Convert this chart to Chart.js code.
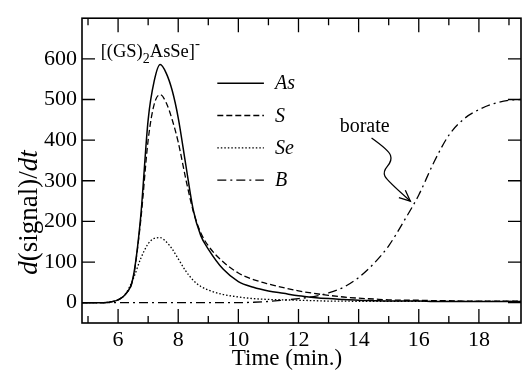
<!DOCTYPE html>
<html><head><meta charset="utf-8">
<script src="https://cdn.jsdelivr.net/npm/chart.js@4/dist/chart.umd.min.js"></script>
<style>html,body{margin:0;padding:0;background:#fff}#wrap{width:523px;height:371px;position:relative}</style>
</head><body><div id="wrap"><canvas id="c"></canvas></div>
<script>
// ---- data ----
const time = [4.8,5.0,5.25,5.5,5.75,6.0,6.25,6.5,6.75,7.0,
              7.2,7.4,7.6,7.8,8.0,8.25,8.5,8.75,9.0,9.5,
              10,10.5,11,11.5,12,12.5,13,13.5,14,14.5,
              15,15.5,16,16.5,17,17.5,18,18.5,19,19.4];
const asVals = [0,0,0,0,2,7,21,62,210,450,
                545,586,565,522,455,340,228,165,132,82,
                52,38,29,23,17,13,10,8,6,5,
                4,4,4,3,3,3,3,3,3,3];
const sVals  = [0,0,0,0,2,7,21,60,200,400,
                488,512,492,450,395,305,225,172,140,100,
                73,57,46,37,29,23,18,14,11,9,
                7,6,6,5,5,4,4,4,4,4];
const seVals = [0,0,0,0,2,7,22,58,108,145,
                158,160,150,132,108,78,55,40,31,20,
                14,10,8,7,6,5,4,4,3,3,
                3,3,3,3,3,3,3,3,3,3];
const bVals  = [0,0,0,0,0,0,0,0,0,0,
                0,0,0,0,0,0,0,0,0,0,
                0,1,3,6,10,15,24,38,62,96,
                140,200,265,345,412,452,475,490,498,500];
const seriesNames = ['As','S','Se','B'];
const xMajorTicks = [6,8,10,12,14,16,18];
const xMinorTicks = [5,7,9,11,13,15,17,19];
const yTicks = [0,100,200,300,400,500,600];
const xRange = [4.8, 19.4];
const yRange = [-50, 700];

const SERIF = "'Liberation Serif','DejaVu Serif',serif";
const styles = [
  {dash: [], width: 1.5},
  {dash: [6,3], width: 1.3},
  {dash: [1.5,2], width: 1.3},
  {dash: [9,4,2,4], width: 1.3}
];
const seriesData = [asVals, sVals, seVals, bVals];
const datasets = seriesData.map((vals, i) => ({
  label: seriesNames[i],
  data: time.map((t, k) => ({x: t, y: vals[k]})),
  borderColor: '#000',
  borderWidth: styles[i].width,
  borderDash: styles[i].dash,
  pointRadius: 0,
  fill: false,
  cubicInterpolationMode: 'monotone'
}));

function drawText(ctx, parts, x, y) {
  let cx = x;
  for (const p of parts) {
    ctx.font = (p.italic ? 'italic ' : '') + p.size + 'px ' + SERIF;
    ctx.fillText(p.t, cx, y + (p.dy || 0));
    cx += ctx.measureText(p.t).width;
  }
  return cx;
}
function measureParts(ctx, parts) {
  let w = 0;
  for (const p of parts) {
    ctx.font = (p.italic ? 'italic ' : '') + p.size + 'px ' + SERIF;
    w += ctx.measureText(p.t).width;
  }
  return w;
}

const decor = {
  id: 'decor',
  afterDraw(chart) {
    const ctx = chart.ctx, a = chart.chartArea;
    const xs = chart.scales.x, ys = chart.scales.y;
    ctx.save();
    ctx.strokeStyle = '#000';
    ctx.fillStyle = '#000';
    ctx.setLineDash([]);
    // frame
    ctx.lineWidth = 1.6;
    ctx.strokeRect(a.left, a.top, a.right - a.left, a.bottom - a.top);
    // ticks (inward)
    ctx.lineWidth = 1.3;
    ctx.beginPath();
    for (const v of xMajorTicks) {
      const px = xs.getPixelForValue(v);
      ctx.moveTo(px, a.bottom); ctx.lineTo(px, a.bottom - 14);
      ctx.moveTo(px, a.top); ctx.lineTo(px, a.top + 14);
    }
    for (const v of xMinorTicks) {
      const px = xs.getPixelForValue(v);
      ctx.moveTo(px, a.bottom); ctx.lineTo(px, a.bottom - 7);
      ctx.moveTo(px, a.top); ctx.lineTo(px, a.top + 7);
    }
    for (const v of yTicks) {
      const py = ys.getPixelForValue(v);
      ctx.moveTo(a.left, py); ctx.lineTo(a.left + 13, py);
      ctx.moveTo(a.right, py); ctx.lineTo(a.right - 13, py);
    }
    ctx.stroke();

    // legend
    const legTop = a.top + 65, legStep = 32.3;
    const lx0 = xs.getPixelForValue(9.3), lx1 = xs.getPixelForValue(10.85);
    seriesNames.forEach((name, i) => {
      const y = legTop + i * legStep;
      ctx.beginPath();
      ctx.setLineDash(styles[i].dash);
      ctx.lineWidth = styles[i].width;
      ctx.moveTo(lx0, y); ctx.lineTo(lx1, y);
      ctx.stroke();
      ctx.setLineDash([]);
      ctx.textBaseline = 'middle';
      ctx.textAlign = 'left';
      ctx.font = 'italic 20px ' + SERIF;
      ctx.fillText(name, lx1 + 11, y + 1);
    });

    // compound label
    ctx.textBaseline = 'alphabetic';
    ctx.textAlign = 'left';
    drawText(ctx, [
      {t: '[(GS)', size: 18.5},
      {t: '2', size: 14, dy: 6},
      {t: 'AsSe]', size: 18.5},
      {t: '-', size: 15, dy: -9}
    ], xs.getPixelForValue(5.42), ys.getPixelForValue(604));

    // borate label + wavy arrow
    ctx.font = '20px ' + SERIF;
    ctx.fillText('borate', xs.getPixelForValue(13.37), ys.getPixelForValue(420));
    const P = (t, v) => [xs.getPixelForValue(t), ys.getPixelForValue(v)];
    const s = P(14.43, 405), b1 = P(15.0, 375), c = P(15.12, 350), d = P(14.8, 322), e = P(14.95, 300), tip = P(15.72, 250);
    ctx.lineWidth = 1.3;
    ctx.beginPath();
    ctx.moveTo(s[0], s[1]);
    ctx.quadraticCurveTo(b1[0], b1[1], (b1[0]+c[0])/2, (b1[1]+c[1])/2);
    ctx.quadraticCurveTo(c[0], c[1], (c[0]+d[0])/2, (c[1]+d[1])/2);
    ctx.quadraticCurveTo(d[0], d[1], (d[0]+e[0])/2, (d[1]+e[1])/2);
    ctx.quadraticCurveTo(e[0], e[1], tip[0], tip[1]);
    ctx.stroke();
    const ang = Math.atan2(tip[1] - e[1], tip[0] - e[0]);
    const hl = 12, ha = 0.42;
    ctx.beginPath();
    ctx.moveTo(tip[0] - hl * Math.cos(ang - ha), tip[1] - hl * Math.sin(ang - ha));
    ctx.lineTo(tip[0], tip[1]);
    ctx.lineTo(tip[0] - hl * Math.cos(ang + ha), tip[1] - hl * Math.sin(ang + ha));
    ctx.stroke();

    // axis titles
    ctx.textBaseline = 'alphabetic';
    const xt = [{t: 'Time (min.)', size: 23}];
    const xw = measureParts(ctx, xt);
    drawText(ctx, xt, a.left + 205 - xw / 2, chart.height - 6);

    const yt = [{t: 'd', size: 27, italic: true}, {t: '(signal)/', size: 27}, {t: 'dt', size: 27, italic: true}];
    const yw = measureParts(ctx, yt);
    ctx.translate(37, ys.getPixelForValue(222));
    ctx.rotate(-Math.PI / 2);
    drawText(ctx, yt, -yw / 2, 0);
    ctx.restore();
  }
};

new Chart(document.getElementById('c'), {
  type: 'line',
  data: {datasets},
  options: {
    responsive: true,
    maintainAspectRatio: false,
    animation: false,
    layout: {padding: {top: 13, right: 2, left: 0, bottom: 0}},
    plugins: {legend: {display: false}, tooltip: {enabled: false}},
    scales: {
      x: {
        type: 'linear', min: xRange[0], max: xRange[1],
        grid: {display: false, drawTicks: false}, border: {display: false},
        afterBuildTicks: s => { s.ticks = xMajorTicks.map(v => ({value: v})); },
        afterFit: s => { s.height = 48; },
        ticks: {color: '#000', padding: 4, maxRotation: 0, font: {family: SERIF, size: 22}}
      },
      y: {
        type: 'linear', min: yRange[0], max: yRange[1],
        grid: {display: false, drawTicks: false}, border: {display: false},
        afterBuildTicks: s => { s.ticks = yTicks.map(v => ({value: v})); },
        afterFit: s => { s.width = 82; },
        ticks: {color: '#000', padding: 5, font: {family: SERIF, size: 22}}
      }
    }
  },
  plugins: [decor]
});
</script></body></html>
